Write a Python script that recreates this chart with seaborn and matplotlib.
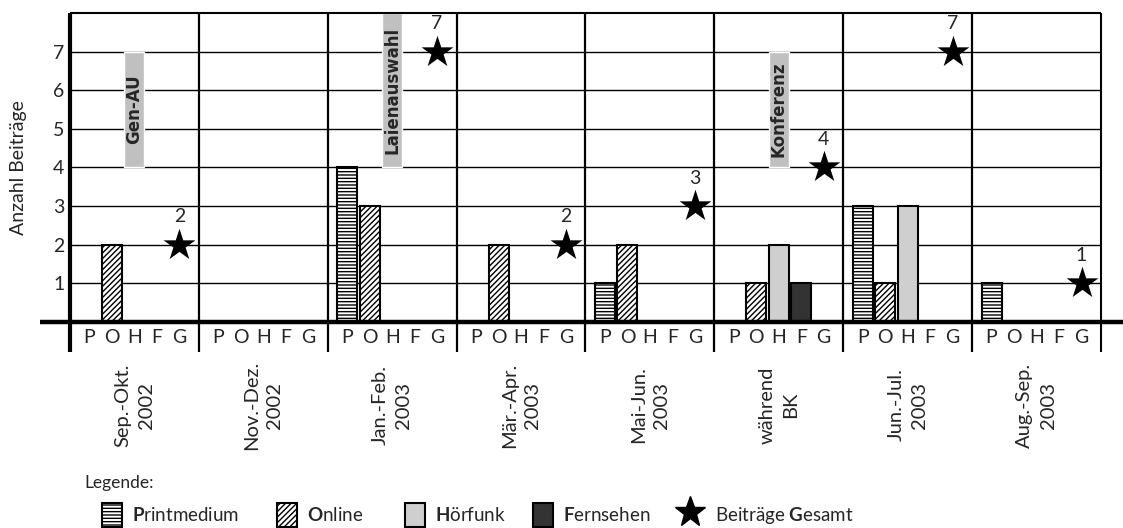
import numpy as np
import pandas as pd
import matplotlib
matplotlib.use("Agg")
import matplotlib.pyplot as plt
import seaborn as sns
from matplotlib.patches import Patch
from matplotlib.lines import Line2D

# data
periods = ["Sep.-Okt.\n2002", "Nov.-Dez.\n2002", "Jan.-Feb.\n2003", "Mär.-Apr.\n2003",
           "Mai-Jun.\n2003", "während\nBK", "Jun.-Jul.\n2003", "Aug.-Sep.\n2003"]
media = ["P", "O", "H", "F"]
print_vals = [0, 0, 4, 0, 1, 0, 3, 1]
online_vals = [2, 0, 3, 2, 2, 1, 1, 0]
radio_vals = [0, 0, 0, 0, 0, 2, 3, 0]
tv_vals = [0, 0, 0, 0, 0, 1, 0, 0]
total_vals = [2, np.nan, 7, 2, 3, 4, 7, 1]
slot_letters = ["P", "O", "H", "F", "G"]

events = ["Gen-AU", "Laienauswahl", "Konferenz"]
event_period = [0, 2, 5]
event_from = [4, 4, 4]
event_to = [7, 8, 7]

legend_labels = [r"$\mathbf{P}$rintmedium", r"$\mathbf{O}$nline", r"$\mathbf{H}$örfunk",
                 r"$\mathbf{F}$ernsehen", r"Beiträge $\mathbf{G}$esamt"]

sns.set_theme(style="white")
plt.rcParams["font.family"] = ["Lato", "DejaVu Sans"]
plt.rcParams["mathtext.fontset"] = "custom"
plt.rcParams["mathtext.rm"] = "Lato"
plt.rcParams["mathtext.bf"] = "Lato:bold"
plt.rcParams["hatch.linewidth"] = 1.0

df = pd.DataFrame({
    "Zeitraum": periods * 4,
    "Medium": np.repeat(media, len(periods)),
    "Anzahl": print_vals + online_vals + radio_vals + tv_vals,
})

colors = {"P": "white", "O": "white", "H": "#cfcfcf", "F": "#333333", "G": "black"}
hatches = ["-----", "//////", "", ""]

fig = plt.figure(figsize=(11.23, 5.28), dpi=100)
ax = fig.add_axes([0.0623, 0.3902, 0.9181, 0.5852])

group_w = 0.872
slot = group_w / 5
sns.barplot(data=df, x="Zeitraum", y="Anzahl", hue="Medium", order=periods,
            hue_order=slot_letters, palette=colors, saturation=1, width=group_w,
            gap=0.11, errorbar=None, edgecolor="black", linewidth=1.5,
            legend=False, zorder=3, ax=ax)
for cont, h in zip(ax.containers, hatches):
    for bar in cont:
        bar.set_hatch(h)

# totals as stars
xpos = np.arange(len(periods))
star_x = xpos + 2 * slot
sns.scatterplot(x=star_x, y=total_vals, marker="*", s=580, color="black",
                linewidth=0, zorder=6, ax=ax)
for x, v in zip(star_x, total_vals):
    if not np.isnan(v):
        ax.annotate(f"{int(v)}", (x, v), xytext=(0, 20), textcoords="offset points",
                    ha="center", va="center", fontsize=14)

# event labels
ax.bar(event_period, np.subtract(event_to, event_from), bottom=event_from,
       width=0.155, color="#c0c0c0", zorder=2)
for p, name, a, b in zip(event_period, events, event_from, event_to):
    ax.text(p, (a + b) / 2, name, rotation=90, ha="center", va="center",
            fontsize=12, fontweight="bold", family="DejaVu Sans", zorder=7)

ax.set_xlim(-0.5, len(periods) - 0.5)
ax.set_ylim(0, 8)
for s in ax.spines.values():
    s.set_visible(False)
ax.set_xticks([])
ax.set_xlabel("")
ax.set_ylabel("")
ax.set_yticks(range(1, 8))
ax.set_yticklabels([str(i) for i in range(1, 8)], fontsize=14)
ax.tick_params(axis="y", length=0, pad=4)

ax.hlines(range(1, 8), -0.5, len(periods) - 0.5, color="black", lw=1.0, zorder=1)
ax.hlines(8, -0.5, len(periods) - 0.5, color="black", lw=1.5, zorder=4, clip_on=False)
ax.vlines(np.arange(0.5, len(periods) - 0.5), -0.78, 8, color="black", lw=1.6,
          zorder=4, clip_on=False)
ax.vlines(-0.5, -0.78, 8, color="black", lw=3, zorder=5, clip_on=False)
ax.vlines(len(periods) - 0.5, -0.78, 8, color="black", lw=1.5, zorder=5, clip_on=False)
ax.plot([-0.029, 1.03], [0, 0], color="black", lw=3.2, transform=ax.get_yaxis_transform(),
        clip_on=False, zorder=8, solid_capstyle="butt")

for i in xpos:
    for k, letter in enumerate(slot_letters):
        ax.text(i + (k - 2) * slot, -0.4, letter, ha="center", va="center", fontsize=14)
    ax.text(i, -2.15, periods[i], rotation=90, ha="center", va="center",
            multialignment="center", fontsize=14.5, linespacing=1.45)

ax.text(-0.05, 0.5, "Anzahl Beiträge", rotation=90, ha="center", va="center",
        fontsize=14, transform=ax.transAxes)

# legend
fig.text(84 / 1123, 1 - 483 / 528, "Legende:", fontsize=12.5, va="center")
handles = [
    Patch(facecolor="white", edgecolor="black", hatch="-----", lw=1.5),
    Patch(facecolor="white", edgecolor="black", hatch="//////", lw=1.5),
    Patch(facecolor="#cfcfcf", edgecolor="black", lw=1.5),
    Patch(facecolor="#333333", edgecolor="black", lw=1.5),
    Line2D([], [], marker="*", color="black", lw=0, markersize=23),
]
leg_x = [102, 277, 405, 533, 675]
for h, lab, lx in zip(handles, legend_labels, leg_x):
    hl = 1.6 if isinstance(h, Line2D) else 1.07
    fig.legend([h], [lab], loc="center left", bbox_to_anchor=(lx / 1123, 1 - 515 / 528),
               frameon=False, fontsize=13.5, handlelength=hl, handleheight=1.6,
               handletextpad=0.53, borderpad=0, borderaxespad=0)

fig.savefig("out.png", dpi=100)
